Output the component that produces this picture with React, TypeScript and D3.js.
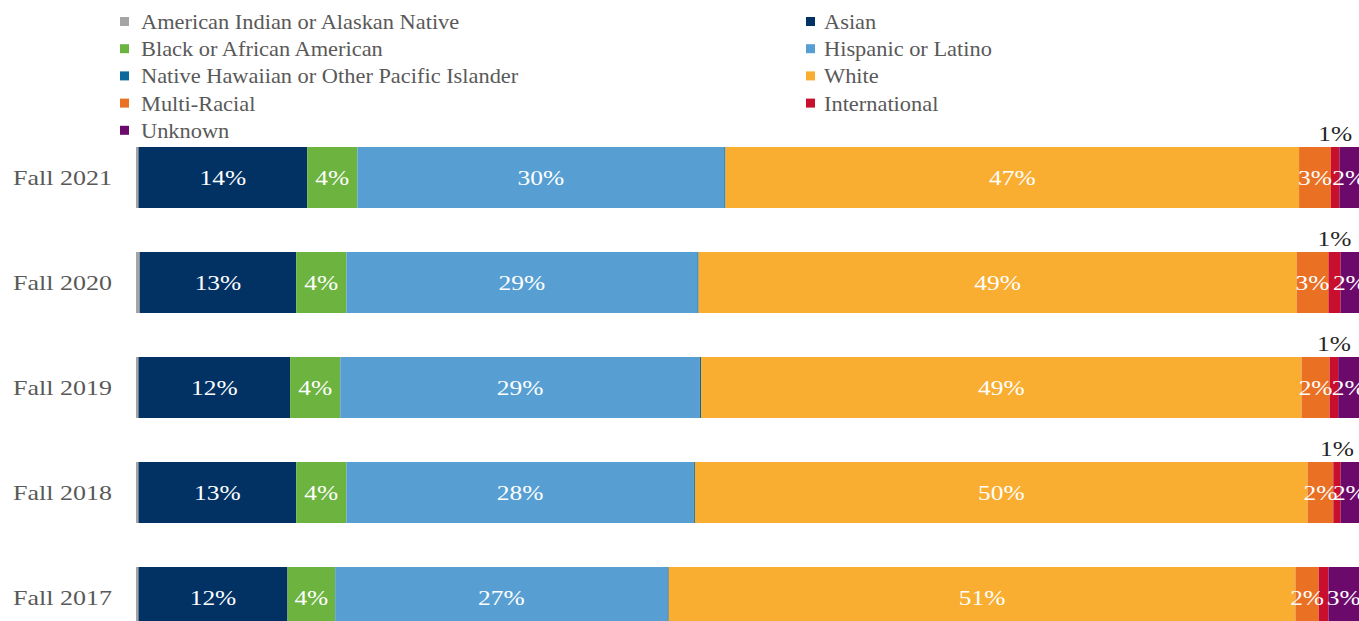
import React from "react";
import * as d3 from "d3";

// rows top -> bottom
const years = ["Fall 2021", "Fall 2020", "Fall 2019", "Fall 2018", "Fall 2017"];

const groups = [
  "American Indian or Alaskan Native",
  "Asian",
  "Black or African American",
  "Hispanic or Latino",
  "Native Hawaiian or Other Pacific Islander",
  "White",
  "Multi-Racial",
  "International",
  "Unknown",
];

const colors = [
  "#a5a5a5",
  "#023264",
  "#6db33f",
  "#579fd3",
  "#0b6a9a",
  "#f9ae32",
  "#ea7024",
  "#c8102e",
  "#6c0a6c",
];

// percent values per group, same order as years
const amInd = [0.2, 0.3, 0.2, 0.2, 0.2];
const asian = [13.8, 12.8, 12.4, 12.9, 12.2];
const black = [4.1, 4.1, 4.1, 4.1, 3.9];
const hispanic = [30.0, 28.7, 29.4, 28.4, 27.2];
const nhpi = [0.1, 0.1, 0.1, 0.1, 0.1];
const white = [46.9, 48.9, 49.1, 50.1, 51.3];
const multi = [2.6, 2.6, 2.3, 2.1, 1.9];
const intl = [0.7, 1.0, 0.7, 0.6, 0.8];
const unknown = [1.6, 1.5, 1.7, 1.5, 2.5];

const series = [amInd, asian, black, hispanic, nhpi, white, multi, intl, unknown];

// which groups get a label inside the bar
const insideLabels = ["Asian", "Black or African American", "Hispanic or Latino", "White", "Multi-Racial", "Unknown"];
// International label sits above the bar for these rows
const aboveLabelYears = ["Fall 2021", "Fall 2020", "Fall 2019", "Fall 2018"];

const W = 1359;
const H = 621;
const FONT = "'Liberation Serif', 'Times New Roman', serif";
const SX = 1.27; // the source picture is stretched sideways
const SX_CAT = 1.3;
const SX_LEG = 1.12;

const App = () => {
  const rows = years.map((y, i) => {
    const r: any = { year: y };
    groups.forEach((g, j) => (r[g] = series[j][i]));
    return r;
  });

  const stacked = d3.stack<any>().keys(groups).offset(d3.stackOffsetExpand)(rows);

  const x = d3.scaleLinear().domain([0, 1]).range([136, 1359]);
  const y = d3
    .scaleBand()
    .domain(years)
    .range([147, 628])
    .paddingInner(44 / 105)
    .paddingOuter(0);

  const legendCols = [120, 806];
  const legendTextX = [141, 824];

  return (
    <svg
      width={W}
      height={H}
      style={{ position: "absolute", left: 0, top: 0, background: "#fff", fontFamily: FONT }}
    >
      {/* legend */}
      {groups.map((g, i) => {
        const col = i % 2;
        const row = Math.floor(i / 2);
        const cy = 22 + row * 27.2;
        return (
          <g key={g}>
            <rect x={legendCols[col]} y={cy - 5} width={9} height={9} fill={colors[i]} />
            <text
              transform={`translate(${legendTextX[col]},${cy + 7}) scale(${SX_LEG},1)`}
              fontSize={20}
              fill="#595959"
            >
              {g}
            </text>
          </g>
        );
      })}

      {/* bars */}
      {stacked.map((s, si) => (
        <g key={s.key} fill={colors[si]}>
          {s.map((d: any) => (
            <rect
              key={d.data.year}
              x={x(d[0])}
              y={y(d.data.year)}
              width={Math.max(0, x(d[1]) - x(d[0]))}
              height={y.bandwidth()}
            />
          ))}
        </g>
      ))}

      {/* category labels */}
      {years.map((yr) => (
        <text
          key={yr}
          transform={`translate(112,${(y(yr) as number) + y.bandwidth() / 2 + 7}) scale(${SX_CAT},1)`}
          textAnchor="end"
          fontSize={20}
          fill="#595959"
        >
          {yr}
        </text>
      ))}

      {/* value labels */}
      {stacked.map((s, si) =>
        s.map((d: any) => {
          const key = s.key as string;
          const v = series[si][years.indexOf(d.data.year)];
          const cx = (x(d[0]) + x(d[1])) / 2;
          const top = y(d.data.year) as number;
          if (insideLabels.includes(key)) {
            return (
              <text
                key={key + d.data.year}
                transform={`translate(${cx},${top + y.bandwidth() / 2 + 7}) scale(${SX},1)`}
                textAnchor="middle"
                fontSize={20}
                fill="#fff"
              >
                {Math.round(v)}%
              </text>
            );
          }
          if (key === "International" && aboveLabelYears.includes(d.data.year)) {
            return (
              <text
                key={key + d.data.year}
                transform={`translate(${cx},${top - 6}) scale(${SX},1)`}
                textAnchor="middle"
                fontSize={20}
                fill="#262626"
              >
                {Math.round(v)}%
              </text>
            );
          }
          return null;
        })
      )}
    </svg>
  );
};

export default App;
